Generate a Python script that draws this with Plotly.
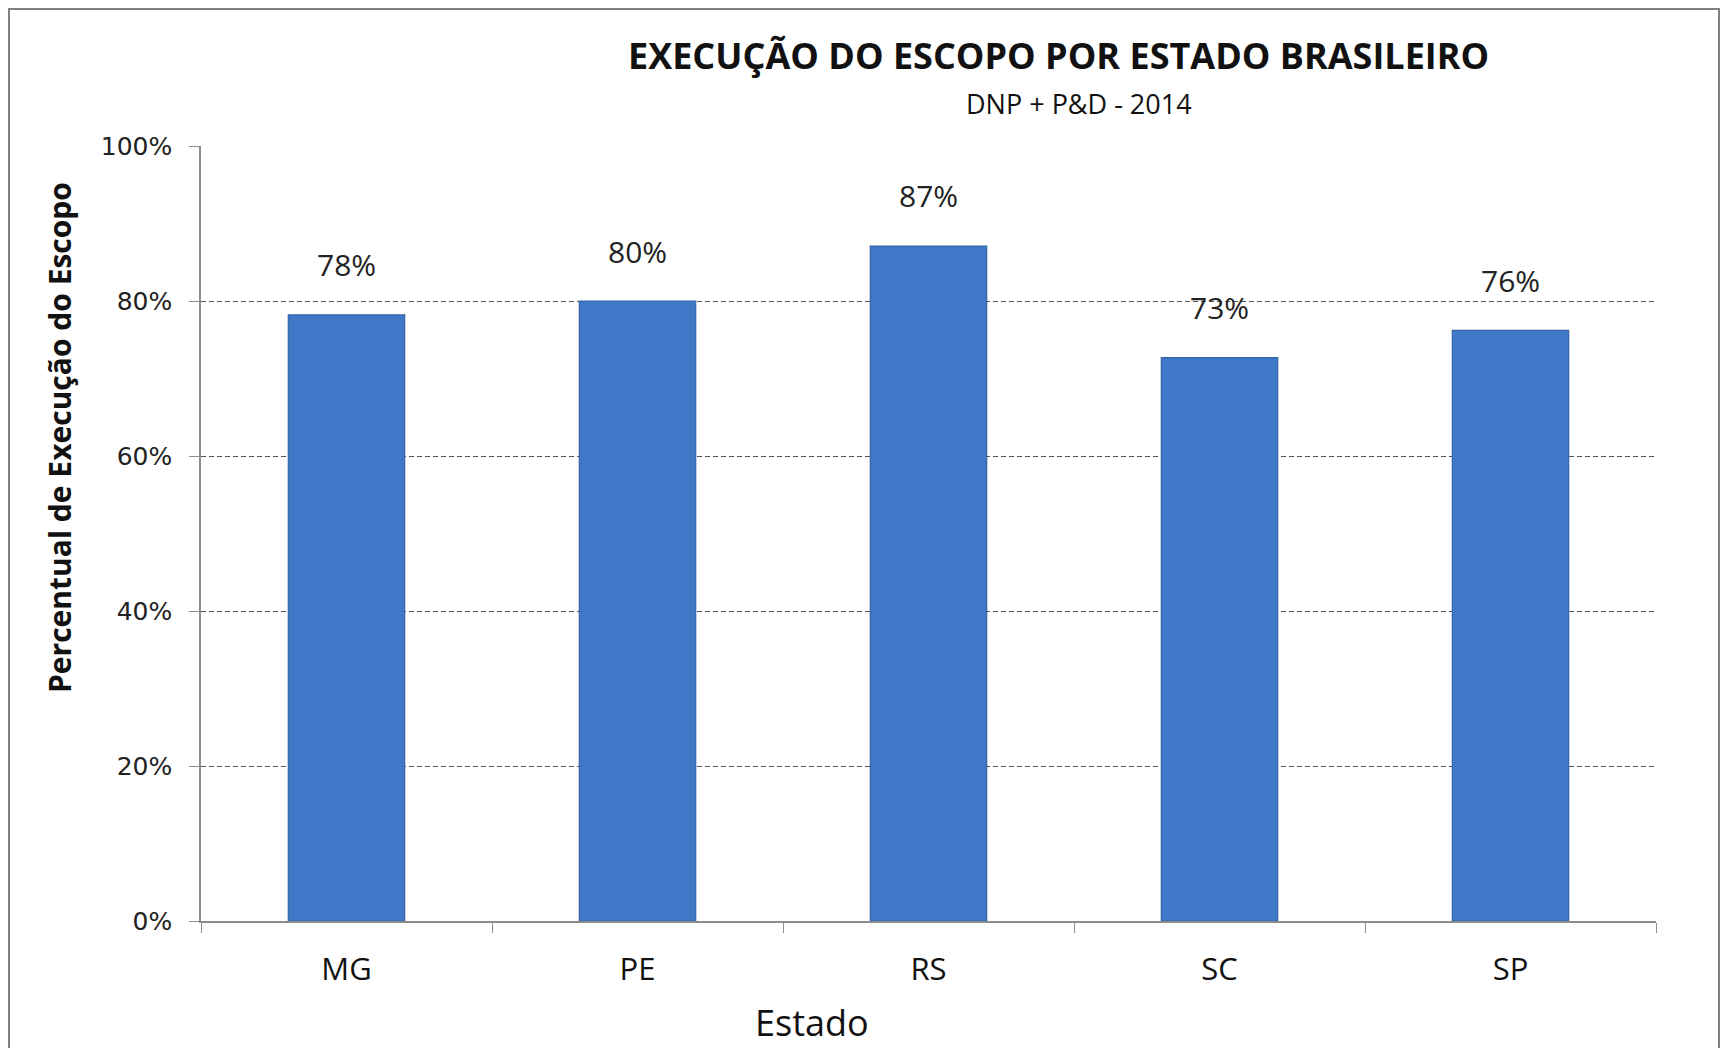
import plotly.graph_objects as go

estados = ["MG", "PE", "RS", "SC", "SP"]
execucao = [0.782, 0.800, 0.871, 0.727, 0.762]
y_ticks = [0, 0.2, 0.4, 0.6, 0.8, 1.0]
y_tick_labels = ["0%", "20%", "40%", "60%", "80%", "100%"]

OFF = 8  # default page body margin
W, H = 1729 - OFF, 1048 - OFF
L, T = 201 - OFF, 146 - OFF
R = W - (1656 - OFF)
B = H - (921 - OFF)
pw, ph = W - L - R, H - T - B


def px(x):
    return (x - OFF - L) / pw


def py(y):
    return (H - B - (y - OFF)) / ph


FONT = "Open Sans"

fig = go.Figure()
fig.add_trace(go.Bar(
    x=estados, y=execucao,
    marker=dict(color="#3e78c6", line=dict(color="#3364a6", width=1.2)),
    width=0.4,
    showlegend=False,
    hoverinfo="skip",
))

annotations = [
    dict(x=e, y=v, xref="x", yref="y", text=f"{v*100:.0f}%", showarrow=False,
         yanchor="middle", yshift=50,
         font=dict(family=FONT, size=30, color="#222222"))
    for e, v in zip(estados, execucao)
]
annotations += [
    dict(text="<b>EXECUÇÃO DO ESCOPO POR ESTADO BRASILEIRO</b>", xref="paper", yref="paper",
         x=px(1058), y=py(56), xanchor="center", yanchor="middle", showarrow=False,
         font=dict(family=FONT, size=36, color="#111111")),
    dict(text="DNP + P&D - 2014", xref="paper", yref="paper",
         x=px(1079), y=py(103), xanchor="center", yanchor="middle", showarrow=False,
         font=dict(family=FONT, size=27, color="#111111")),
    dict(text="<b>Percentual de Execução do Escopo</b>", xref="paper", yref="paper",
         x=px(59), y=py(438), xanchor="center", yanchor="middle", showarrow=False,
         textangle=-90, font=dict(family=FONT, size=30, color="#111111")),
    dict(text="Estado", xref="paper", yref="paper",
         x=px(812), y=py(1022), xanchor="center", yanchor="middle", showarrow=False,
         font=dict(family=FONT, size=36, color="#111111")),
]

fig.update_layout(
    width=W, height=H,
    margin=dict(l=L, r=R, t=T, b=B, autoexpand=False),
    paper_bgcolor="white", plot_bgcolor="white",
    xaxis=dict(
        showline=True, linecolor="#8c8c8c", linewidth=1.5,
        ticks="outside", tickson="boundaries", ticklen=10, tickcolor="#8c8c8c",
        tickfont=dict(family=FONT, size=31, color="#111111"),
        ticklabelstandoff=20,
        showgrid=False, automargin=False,
    ),
    yaxis=dict(
        range=[0, 1.0], tickvals=y_ticks, ticktext=y_tick_labels,
        showline=True, linecolor="#8c8c8c", linewidth=1.5,
        ticks="outside", ticklen=10, tickcolor="#8c8c8c",
        tickfont=dict(family="DejaVu Sans", size=25, color="#222222"),
        ticklabelstandoff=12,
        showgrid=True, gridcolor="#555555", gridwidth=1, griddash="5px,3px",
        zeroline=False, automargin=False,
    ),
    annotations=annotations,
    shapes=[
        dict(type="rect", xref="paper", yref="paper",
             x0=px(9), x1=px(1719), y0=py(1070), y1=py(9),
             line=dict(color="#808080", width=2), fillcolor="rgba(0,0,0,0)", layer="below"),
    ],
)

fig.write_html("out.html")
